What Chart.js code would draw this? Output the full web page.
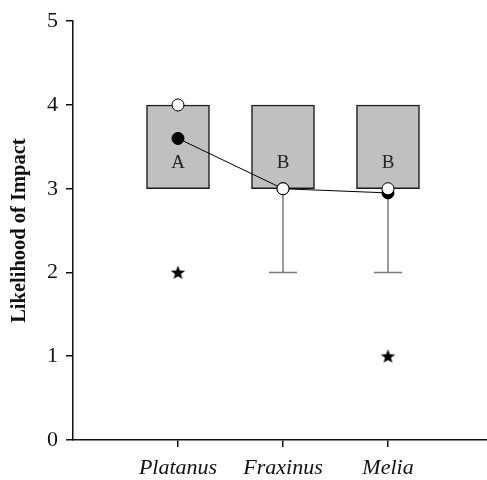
<!DOCTYPE html>
<html>
<head>
<meta charset="utf-8">
<script src="https://cdn.jsdelivr.net/npm/chart.js@4.4.1/dist/chart.umd.min.js"></script>
<style>
  html, body { margin: 0; padding: 0; background: #fff; }
  #wrap { width: 487px; height: 480px; }
</style>
</head>
<body>
<div id="wrap"><canvas id="c" width="487" height="480"></canvas></div>
<script>
// ---- data ----
const categories = ['Platanus', 'Fraxinus', 'Melia'];
const boxLow = [3, 3, 3];
const boxHigh = [4, 4, 4];
const medians = [4, 3, 3];
const means = [3.6, 3.0, 2.95];
const whiskerLow = [null, 2, 2];
const outliers = [2, null, 1];
const letters = ['A', 'B', 'B'];
const letterY = 3.31;
const yTicks = [0, 1, 2, 3, 4, 5];

const xPos = categories.map((_, i) => i + 1);

// star point style
function makeStar(r) {
  const s = Math.ceil(r * 2 + 2);
  const cv = document.createElement('canvas');
  cv.width = s; cv.height = s;
  const g = cv.getContext('2d');
  g.fillStyle = '#000';
  g.beginPath();
  for (let i = 0; i < 10; i++) {
    const rad = i % 2 === 0 ? r : r * 0.42;
    const a = -Math.PI / 2 + i * Math.PI / 5;
    const px = s / 2 + rad * Math.cos(a), py = s / 2 + rad * Math.sin(a) + 0.5;
    if (i === 0) g.moveTo(px, py); else g.lineTo(px, py);
  }
  g.closePath();
  g.fill();
  return cv;
}
const starImg = makeStar(7.5);

const serif = '"Liberation Serif", "Times New Roman", serif';

const whiskerPlugin = {
  id: 'whiskers',
  beforeDatasetsDraw(chart) {
    const {ctx, scales: {x, y}} = chart;
    ctx.save();
    ctx.strokeStyle = '#7a7a7a';
    ctx.lineWidth = 1.5;
    whiskerLow.forEach((lo, i) => {
      if (lo === null) return;
      const px = x.getPixelForValue(xPos[i]);
      const top = y.getPixelForValue(boxLow[i]);
      const bot = y.getPixelForValue(lo);
      ctx.beginPath();
      ctx.moveTo(px, top); ctx.lineTo(px, bot);
      ctx.moveTo(px - 14, bot); ctx.lineTo(px + 14, bot);
      ctx.stroke();
    });
    ctx.restore();
  },
  afterDatasetsDraw(chart) {
    const {ctx, scales: {x, y}} = chart;
    ctx.save();
    ctx.fillStyle = '#222';
    ctx.font = '19px ' + serif;
    ctx.textAlign = 'center';
    ctx.textBaseline = 'middle';
    letters.forEach((t, i) => {
      ctx.fillText(t, x.getPixelForValue(xPos[i]), y.getPixelForValue(letterY));
    });
    ctx.restore();
  }
};

new Chart(document.getElementById('c'), {
  type: 'bar',
  data: {
    datasets: [
      {
        type: 'scatter',
        order: 0,
        data: xPos.map((x, i) => ({x, y: medians[i]})),
        pointRadius: 6,
        pointBackgroundColor: '#fff',
        pointBorderColor: '#000',
        pointBorderWidth: 1
      },
      {
        type: 'line',
        order: 1,
        data: xPos.map((x, i) => ({x, y: means[i]})),
        borderColor: '#000',
        borderWidth: 1,
        pointRadius: 6,
        pointBackgroundColor: '#000',
        pointBorderColor: '#000',
        tension: 0
      },
      {
        type: 'scatter',
        order: 2,
        data: xPos.map((x, i) => ({x, y: outliers[i]})).filter(d => d.y !== null),
        pointStyle: starImg,
        pointRadius: 8
      },
      {
        type: 'bar',
        order: 3,
        data: xPos.map((x, i) => ({x, y: [boxLow[i], boxHigh[i]]})),
        backgroundColor: '#c0c0c0',
        borderColor: '#1a1a1a',
        borderWidth: 1.5,
        borderSkipped: false,
        barThickness: 63
      }
    ]
  },
  options: {
    responsive: false,
    animation: false,
    events: [],
    layout: { autoPadding: false, padding: { top: 21, right: 0, left: 0, bottom: 0 } },
    plugins: { legend: { display: false }, tooltip: { enabled: false } },
    scales: {
      x: {
        type: 'linear',
        min: 0,
        max: 3.943,
        offset: false,
        afterFit(s) { s.height = 40; },
        afterBuildTicks(s) { s.ticks = xPos.map(v => ({value: v})); },
        border: { display: true, color: '#111', width: 1.5 },
        grid: { display: true, offset: false, drawOnChartArea: false, drawTicks: true, tickLength: 7, color: '#111', lineWidth: 1.5 },
        ticks: {
          autoSkip: false,
          maxRotation: 0,
          padding: 8,
          color: '#111',
          font: { family: serif, size: 22, style: 'italic' },
          callback: (v) => categories[xPos.indexOf(v)] ?? ''
        }
      },
      y: {
        type: 'linear',
        min: 0,
        max: 5,
        afterFit(s) { s.width = 73; },
        afterBuildTicks(s) { s.ticks = yTicks.map(v => ({value: v})); },
        border: { display: true, color: '#111', width: 1.5 },
        grid: { display: true, drawOnChartArea: false, drawTicks: true, tickLength: 7, color: '#111', lineWidth: 1.5 },
        ticks: {
          padding: 8,
          color: '#111',
          font: { family: serif, size: 22 }
        },
        title: {
          display: true,
          text: 'Likelihood of Impact',
          color: '#111',
          font: { family: serif, size: 20.5, weight: 'bold' },
          padding: { top: 7, bottom: 0 }
        }
      }
    }
  },
  plugins: [whiskerPlugin]
});
</script>
</body>
</html>
